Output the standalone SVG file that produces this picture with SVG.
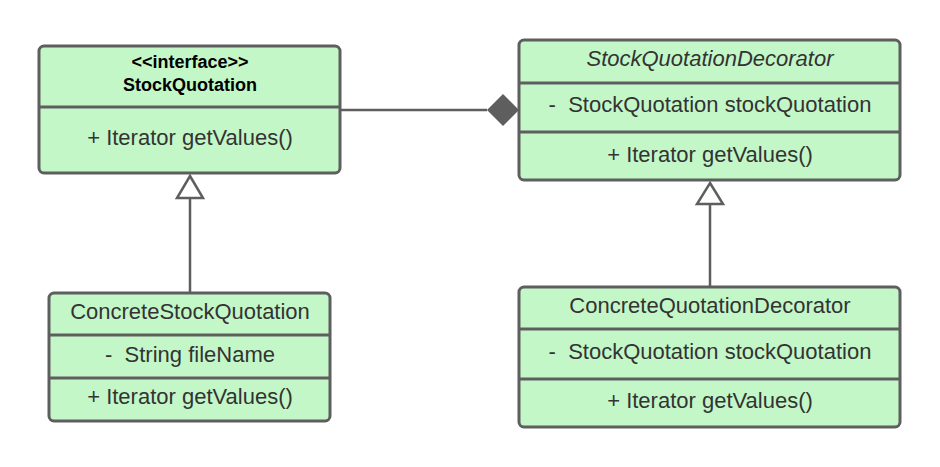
<svg xmlns="http://www.w3.org/2000/svg" width="940" height="467" viewBox="0 0 940 467">
<style>
.box{fill:#c3f7c8;stroke:#5e5e5e;stroke-width:3}
.div{stroke:#5e5e5e;stroke-width:3;fill:none}
.t{font-family:"Liberation Sans",Arial,sans-serif;font-size:22px;fill:#333333;text-anchor:middle}
.b{font-family:"Liberation Sans",Arial,sans-serif;font-size:18px;font-weight:bold;fill:#000000;text-anchor:middle}
.i{font-style:italic}
.ln{stroke:#5e5e5e;stroke-width:2.5;fill:none}
</style>
<rect width="940" height="467" fill="#ffffff"/>
<g id="connectors">
<line class="ln" x1="340" y1="110" x2="487" y2="110"/>
<polygon points="487,110 503,94 519,110 503,126" fill="#5e5e5e"/>
<line class="ln" x1="190" y1="198" x2="190" y2="293"/>
<polygon points="190,176 203,198 177,198" fill="#ffffff" stroke="#5e5e5e" stroke-width="2.5"/>
<line class="ln" x1="710" y1="204" x2="710" y2="287"/>
<polygon points="710,183 723,204 697,204" fill="#ffffff" stroke="#5e5e5e" stroke-width="2.5"/>
</g>
<g id="StockQuotation">
<rect class="box" x="39" y="46" width="301" height="127" rx="5"/>
<line class="div" x1="39" y1="107" x2="340" y2="107"/>
<text class="b" x="190" y="68">&lt;&lt;interface&gt;&gt;</text>
<text class="b" x="190" y="91">StockQuotation</text>
<text class="t" x="190" y="145">+ Iterator getValues()</text>
</g>
<g id="StockQuotationDecorator">
<rect class="box" x="519" y="40" width="381" height="140" rx="5"/>
<line class="div" x1="519" y1="83" x2="900" y2="83"/>
<line class="div" x1="519" y1="132" x2="900" y2="132"/>
<text class="t i" x="710" y="66">StockQuotationDecorator</text>
<text class="t" x="710" y="112" xml:space="preserve">-  StockQuotation stockQuotation</text>
<text class="t" x="710" y="162">+ Iterator getValues()</text>
</g>
<g id="ConcreteStockQuotation">
<rect class="box" x="49" y="293" width="281" height="128" rx="5"/>
<line class="div" x1="49" y1="335" x2="330" y2="335"/>
<line class="div" x1="49" y1="378" x2="330" y2="378"/>
<text class="t" x="190" y="319">ConcreteStockQuotation</text>
<text class="t" x="190" y="362" xml:space="preserve">-  String fileName</text>
<text class="t" x="190" y="404">+ Iterator getValues()</text>
</g>
<g id="ConcreteQuotationDecorator">
<rect class="box" x="519" y="287" width="381" height="140" rx="5"/>
<line class="div" x1="519" y1="329" x2="900" y2="329"/>
<line class="div" x1="519" y1="379" x2="900" y2="379"/>
<text class="t" x="710" y="313">ConcreteQuotationDecorator</text>
<text class="t" x="710" y="359" xml:space="preserve">-  StockQuotation stockQuotation</text>
<text class="t" x="710" y="408">+ Iterator getValues()</text>
</g>
</svg>
